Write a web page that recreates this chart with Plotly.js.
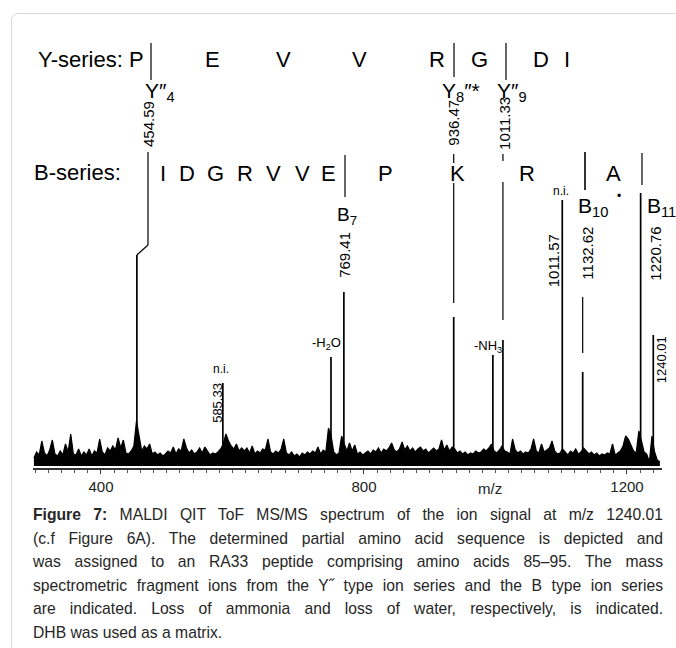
<!DOCTYPE html>
<html><head><meta charset="utf-8">
<script src="https://cdn.plot.ly/plotly-3.0.1.min.js"></script>
<style>
html,body{margin:0;padding:0;background:#fff;width:676px;height:648px;overflow:hidden;}
#frame{position:absolute;left:11px;top:13px;width:720px;height:700px;border:1px solid #d9d9d9;border-radius:7px;}
#chart{position:absolute;left:0;top:0;width:676px;height:500px;}
#cap{position:absolute;left:33px;top:503px;width:630px;font-family:"Liberation Sans",Arial,sans-serif;font-size:15.7px;line-height:23.5px;color:#262626;}
#cap div{text-align:justify;text-align-last:justify;}
#cap div.last{text-align-last:left;}
</style></head>
<body>
<div id="frame"></div>
<div id="chart"></div>
<div id="cap">
<div><b>Figure 7:</b> MALDI QIT ToF MS/MS spectrum of the ion signal at m/z 1240.01</div>
<div>(c.f Figure 6A). The determined partial amino acid sequence is depicted and</div>
<div>was assigned to an RA33 peptide comprising amino acids 85–95. The mass</div>
<div>spectrometric fragment ions from the Y˝ type ion series and the B type ion series</div>
<div>are indicated. Loss of ammonia and loss of water, respectively, is indicated.</div>
<div class="last">DHB was used as a matrix.</div>
</div>
<script>
// ---- data ----
const noiseStart = 298;   // m/z of first noise sample
const noiseStep = 4;      // m/z spacing of noise samples
const noise = [
 8,14,11,25,13,10,16,26,12,10,15,11,22,14,32,12,11,17,10,14,
 11,17,10,15,13,27,14,11,18,15,20,16,28,18,26,13,12,15,20,45,
 30,15,20,17,22,12,14,11,13,10,12,15,13,19,12,17,15,27,18,13,
 16,12,14,18,13,19,15,11,13,12,14,17,22,32,25,20,17,22,15,18,
 15,18,13,20,12,15,13,17,16,27,14,12,15,13,17,27,13,11,14,10,
 12,9,13,11,14,12,15,13,19,12,16,14,38,30,14,11,13,30,22,15,
 23,15,21,12,14,11,13,15,12,16,14,18,13,17,15,18,23,16,14,17,
 24,16,20,15,18,14,17,19,15,17,13,16,18,15,17,26,16,21,15,19,
 17,13,15,12,14,11,13,12,15,13,14,17,15,18,22,15,13,16,20,15,
 14,12,27,16,13,15,12,14,13,17,27,15,13,22,14,16,18,25,15,12,
 13,17,14,11,15,13,17,12,14,18,15,12,14,11,13,10,12,11,13,12,
 22,11,13,15,20,30,27,20,15,13,35,25,14,12,4,30,14,6,4
];
const peakMz  = [454.59, 585.33, 749.8, 769.41, 936.47, 996.0, 1011.33, 1101.57, 1132.62, 1220.76, 1240.01];
const peakInt = [211, 83, 109, 174, 149, 111, 126, 266, 94, 273, 131];
const peakLabels = ["454.59","585.33","","769.41","936.47","","1011.33","1011.57","1132.62","1220.76","1240.01"];
const ySeries = ["P","E","V","V","R","G","D","I"];
const bSeries = ["I","D","G","R","V","V","E","P","K","R","A"];
const xTicks = [400, 800, 1200];

// ---- geometry helpers ----
const L = 33, R = 662, K = 0.6575, X0 = 296.6, PH = 468;
const xd = px => X0 + (px - L) / K;          // pixel -> data x
const yd = py => 466 - py;                   // pixel -> data y
const xpp = px => (px - L) / (R - L);        // pixel -> paper x
const ypp = py => (PH - py) / PH;            // pixel -> paper y
const xpd = m => (m - X0) * K / (R - L);     // data x -> paper x
const FONT = '"Liberation Sans", Arial, sans-serif';

const noiseMz = noise.map((_, i) => noiseStart + i * noiseStep);
const px = [], py = [];
peakMz.forEach((m, i) => { px.push(m, m, null); py.push(0, peakInt[i], null); });

const traces = [
  {x: noiseMz, y: noise, type: 'scatter', mode: 'lines', fill: 'tozeroy',
   fillcolor: '#000', line: {color: '#000', width: 1.2}, hoverinfo: 'skip'},
  {x: px, y: py, type: 'scatter', mode: 'lines', line: {color: '#000', width: 1.7}, hoverinfo: 'skip'}
];

const ann = [];
function T(text, x, y, size, o) {
  ann.push(Object.assign({text, x, y, xref: 'paper', yref: 'paper', showarrow: false,
    xanchor: 'center', yanchor: 'middle', font: {family: FONT, size, color: '#000'}}, o || {}));
}
// Y-series row
T('Y-series: ' + ySeries[0], xpp(146), ypp(60), 22, {xanchor: 'right'});
const yPos = [null, 212, 283, 359, 437, 480, 541, 567];
ySeries.forEach((s, i) => { if (i > 0) T(s, xpp(yPos[i]), ypp(60), 22); });
// Y ion labels
T('Y″<sub>4</sub>', xpp(160), ypp(92), 21);
T('Y<sub>8</sub>″*', xpp(461), ypp(92), 21);
T('Y″<sub>9</sub>', xpp(512), ypp(92), 21);
// B-series row
T('B-series:', xpp(32), ypp(172), 22, {xanchor: 'left'});
const bPos = [163, 187, 215, 245, 273, 302, 328, 385, 457, 527, 613];
bSeries.forEach((s, i) => T(s, xpp(bPos[i]), ypp(173), 22));
// B ion labels
T('B<sub>7</sub>', xpp(347), ypp(216), 19);
T('B<sub>10</sub>', xpp(593), ypp(207), 21);
T('•', xpp(619), ypp(196), 12);
T('B<sub>11</sub>', xpp(661), ypp(207), 21);
T('n.i.', xpp(561), ypp(191), 12);
T('n.i.', xpp(221), ypp(369), 12);
T('-H<sub>2</sub>O', xpp(326), ypp(343), 13);
T('-NH<sub>3</sub>', xpp(488), ypp(346), 13);
T('m/z', xpp(490), ypp(488), 15, {font: {family: FONT, size: 15, color: '#222'}});
// mass labels (rotated), anchored at the peaks
const labPos = {0: [0, 124, 15], 1: [-6, 403, 13], 3: [0, 255, 15], 4: [0, 123, 15], 6: [2, 123, 15],
  7: [-9, 261, 15], 8: [4, 253, 15], 9: [14, 254, 15], 10: [9, 360, 13]};
Object.keys(labPos).forEach(k => {
  const [dx, yy, sz] = labPos[k];
  const xx = (+k === 0) ? xpp(149) : xpd(peakMz[k]);
  T(peakLabels[k], xx, ypp(yy), sz, {textangle: -90, xshift: dx});
});

// connector lines and sequence dividers
const shapes = [];
function S(x0, y0, x1, y1, w) {
  shapes.push({type: 'line', xref: 'x', yref: 'y', x0, y0, x1, y1, line: {color: '#000', width: w || 1.2}});
}
S(peakMz[0], peakInt[0], xd(148), yd(245));
S(xd(148), yd(245), xd(148), yd(152));
S(peakMz[4], yd(183), peakMz[4], yd(303));
S(peakMz[4], yd(154), peakMz[4], yd(163));
S(peakMz[6], yd(182), peakMz[6], yd(320));
S(peakMz[6], yd(154), peakMz[6], yd(161));
S(peakMz[8], yd(297), peakMz[8], yd(353));
// dividers
S(xd(151), yd(43), xd(151), yd(80));
S(xd(454), yd(43), xd(454), yd(77));
S(xd(506), yd(43), xd(506), yd(80));
S(xd(345), yd(155), xd(345), yd(197));
S(xd(585), yd(152), xd(585), yd(190), 1.6);
S(xd(642), yd(153), xd(642), yd(185));

const layout = {
  width: 676, height: 500,
  margin: {l: L, r: 676 - R, t: 0, b: 500 - PH},
  paper_bgcolor: 'rgba(0,0,0,0)', plot_bgcolor: 'rgba(0,0,0,0)',
  showlegend: false,
  xaxis: {range: [X0, X0 + (R - L) / K], showgrid: false, zeroline: false,
    showline: true, linecolor: '#333', linewidth: 2,
    ticks: 'outside', ticklen: 4, tickwidth: 1, tickcolor: '#333',
    tickmode: 'array', tickvals: xTicks, ticktext: xTicks.map(String),
    tickfont: {family: FONT, size: 15, color: '#222'},
    minor: {dtick: 20, tick0: 0, ticks: 'outside', ticklen: 3, tickcolor: '#555', showgrid: false}},
  yaxis: {range: [-2, 466], visible: false, fixedrange: true},
  annotations: ann, shapes: shapes
};
Plotly.newPlot('chart', traces, layout, {displayModeBar: false, staticPlot: true});
</script>
</body></html>
